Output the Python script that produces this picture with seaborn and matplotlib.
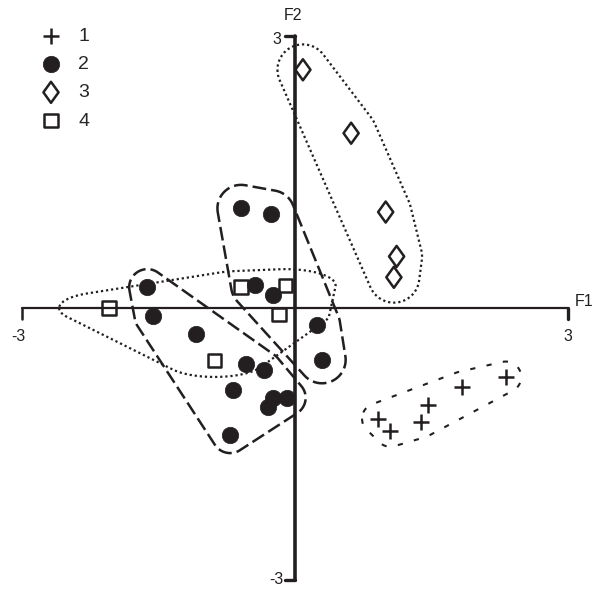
import numpy as np
import matplotlib
matplotlib.use("Agg")
import matplotlib.pyplot as plt
from matplotlib.path import Path
import seaborn as sns

# scores sur le plan factoriel F1 x F2, par groupe
g1_x = [0.91, 1.05, 1.39, 1.46, 1.84, 2.32]
g1_y = [-1.22, -1.36, -1.26, -1.07, -0.87, -0.76]

g2_x = [-0.59, -0.26, -0.44, -0.24, -1.62, -1.56, -1.08, 0.24, 0.30,
        -0.54, -0.34, -0.68, -0.24, -0.08, -0.29, -0.71]
g2_y = [1.10, 1.04, 0.25, 0.14, 0.23, -0.09, -0.29, -0.19, -0.57,
        -0.62, -0.68, -0.90, -0.99, -0.99, -1.09, -1.40]
g2_sub = ["a", "a", "a", "a", "b", "b", "b", "a", "a",
          "b", "b", "b", "b", "b", "b", "b"]

g3_x = [0.09, 0.62, 1.00, 1.12, 1.09]
g3_y = [2.63, 1.93, 1.06, 0.57, 0.34]

g4_x = [-2.04, -0.59, -0.10, -0.17, -0.88]
g4_y = [0.00, 0.23, 0.25, -0.07, -0.58]

labels = ["1", "2", "3", "4"]

ink = "#231f20"


def convex_hull(pts):
    # monotone chain
    pts = sorted(map(tuple, pts))
    def cross(o, a, b):
        return (a[0] - o[0]) * (b[1] - o[1]) - (a[1] - o[1]) * (b[0] - o[0])
    lower, upper = [], []
    for p in pts:
        while len(lower) >= 2 and cross(lower[-2], lower[-1], p) <= 0:
            lower.pop()
        lower.append(p)
    for p in reversed(pts):
        while len(upper) >= 2 and cross(upper[-2], upper[-1], p) <= 0:
            upper.pop()
        upper.append(p)
    h = np.array(lower[:-1] + upper[:-1])
    return np.vstack([h, h[:1]])


def enveloppe(x, y, rx, ry, n=60):
    t = np.linspace(0, 2 * np.pi, n, endpoint=False)
    pts = np.concatenate([np.column_stack([a + rx * np.cos(t), b + ry * np.sin(t)])
                          for a, b in zip(x, y)])
    return convex_hull(pts)


# losange un peu plus large que "d"
losange = Path([(0, 1), (0.72, 0), (0, -1), (-0.72, 0), (0, 1)],
               [Path.MOVETO, Path.LINETO, Path.LINETO, Path.LINETO, Path.CLOSEPOLY])

sns.set_style("white")
plt.rcParams["font.family"] = ["Liberation Sans", "DejaVu Sans"]

fig = plt.figure(figsize=(5.94, 5.89), dpi=100)
ax = fig.add_axes([0, 0, 1, 1])
ax.set_xlim(-3.24, 3.29)
ax.set_ylim(-3.10, 3.40)
ax.set_axis_off()

# axes F1 / F2
ax.plot([-3, 3], [0, 0], color=ink, lw=1.6, zorder=1)
ax.plot([-3, -3], [0, -0.12], color=ink, lw=1.8, zorder=1)
ax.plot([3, 3], [0, -0.12], color=ink, lw=2.4, zorder=1)
ax.plot([0, 0], [-3, 3], color=ink, lw=2.6, zorder=1)
ax.plot([-0.11, 0], [3, 3], color=ink, lw=2.4, zorder=1)
ax.plot([-0.11, 0], [-3, -3], color=ink, lw=2.4, zorder=1)

ax.text(3.08, 0.07, "F1", fontsize=11.5, ha="left", va="center", color=ink)
ax.text(-0.02, 3.23, "F2", fontsize=11.5, ha="center", va="center", color=ink)
ax.text(-0.15, 2.96, "3", fontsize=11.5, ha="right", va="center", color=ink)
ax.text(-0.12, -3.0, "-3", fontsize=11.5, ha="right", va="center", color=ink)
ax.text(-3.04, -0.31, "-3", fontsize=11.5, ha="center", va="center", color=ink)
ax.text(3.0, -0.31, "3", fontsize=11.5, ha="center", va="center", color=ink)

# enveloppes des groupes
h = enveloppe(g1_x, g1_y, 0.17, 0.17)
ax.plot(h[:, 0], h[:, 1], color=ink, lw=1.5, ls=(0, (2.5, 5.5)), zorder=2)

for s, pad in [("a", 0.26), ("b", 0.2)]:
    xs = [a for a, k in zip(g2_x, g2_sub) if k == s]
    ys = [b for b, k in zip(g2_y, g2_sub) if k == s]
    h = enveloppe(xs, ys, pad, pad)
    ax.plot(h[:, 0], h[:, 1], color=ink, lw=1.8, ls=(0, (5.5, 2)), zorder=2)

h = enveloppe(g3_x, g3_y, 0.28, 0.28)
ax.plot(h[:, 0], h[:, 1], color=ink, lw=1.6, ls=(0, (1, 1.3)), zorder=2)

h = enveloppe(g4_x, g4_y, 0.55, 0.18)
ax.plot(h[:, 0], h[:, 1], color=ink, lw=1.6, ls=(0, (1, 1.3)), zorder=2)

# points
sns.scatterplot(x=g1_x, y=g1_y, marker="+", s=130, color=ink, linewidth=1.8,
                label=labels[0], ax=ax, zorder=3)
sns.scatterplot(x=g2_x, y=g2_y, marker="o", s=140, color=ink, edgecolor=ink,
                linewidth=0.5, label=labels[1], ax=ax, zorder=3)
sns.scatterplot(x=g3_x, y=g3_y, marker=losange, s=230, facecolor="none", edgecolor=ink,
                linewidth=1.8, label=labels[2], ax=ax, zorder=3)
sns.scatterplot(x=g4_x, y=g4_y, marker="s", s=95, facecolor="none", edgecolor=ink,
                linewidth=1.8, label=labels[3], ax=ax, zorder=3)

ax.legend(loc="upper left", bbox_to_anchor=(0.04, 0.967), frameon=False,
          fontsize=14, handletextpad=0.4, labelspacing=0.55, scatterpoints=1,
          borderaxespad=0)

fig.savefig("out.png", dpi=100)
